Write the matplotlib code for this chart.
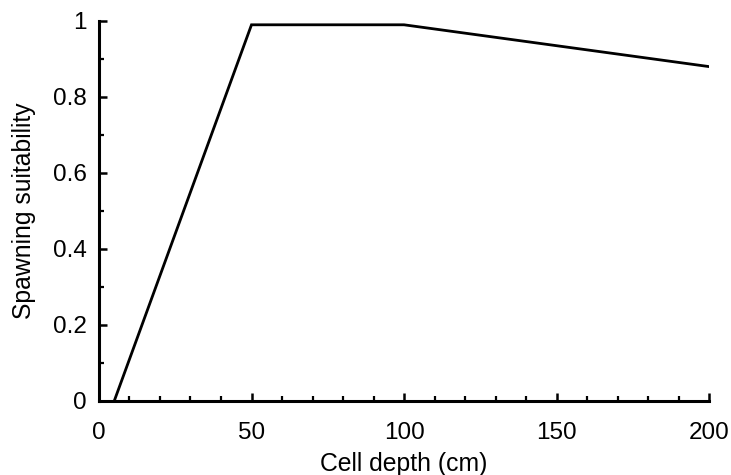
import matplotlib
matplotlib.use("Agg")
import matplotlib.pyplot as plt
from matplotlib.ticker import MultipleLocator, FuncFormatter

depth = [5, 50, 100, 200]
suitability = [0.0, 0.99, 0.99, 0.88]

plt.rcParams['font.family'] = ['Liberation Sans', 'DejaVu Sans']

fig = plt.figure(figsize=(7.31, 4.75), dpi=100)
ax = fig.add_axes([0.1354, 0.1558, 0.970 - 0.1354, 0.9558 - 0.1558])
ax.plot(depth, suitability, color='black', linewidth=2.0, solid_joinstyle='miter')

ax.set_xlim(0, 200)
ax.set_ylim(0, 1)
ax.spines['top'].set_visible(False)
ax.spines['right'].set_visible(False)
for s in ('left', 'bottom'):
    ax.spines[s].set_linewidth(2.2)

ax.xaxis.set_major_locator(MultipleLocator(50))
ax.xaxis.set_minor_locator(MultipleLocator(10))
ax.yaxis.set_major_locator(MultipleLocator(0.2))
ax.yaxis.set_minor_locator(MultipleLocator(0.1))
ax.yaxis.set_major_formatter(FuncFormatter(lambda v, p: f"{v:g}"))
ax.xaxis.set_major_formatter(FuncFormatter(lambda v, p: f"{v:g}"))

ax.tick_params(which='major', direction='in', length=6, width=1.8, labelsize=17.5)
ax.tick_params(which='minor', direction='in', length=3.5, width=1.6)
ax.tick_params(axis='x', which='major', pad=15)
ax.tick_params(axis='y', which='major', pad=9)

ax.set_xlabel('Cell depth (cm)', fontsize=17.8, labelpad=6)
ax.set_ylabel('Spawning suitability', fontsize=17.8, labelpad=12)

fig.savefig('out.png', dpi=100)
